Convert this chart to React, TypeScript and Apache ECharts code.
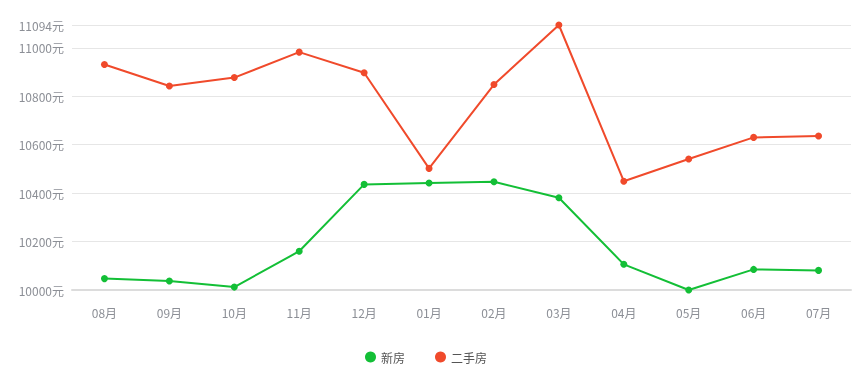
import React, { useEffect, useRef } from "react";
import * as echarts from "echarts";

const categories = ["08月", "09月", "10月", "11月", "12月", "01月", "02月", "03月", "04月", "05月", "06月", "07月"];
const newHouse = [10047, 10037, 10012, 10160, 10436, 10442, 10447, 10381, 10106, 10000, 10085, 10081];
const secondHand = [10931, 10842, 10877, 10982, 10897, 10502, 10848, 11094, 10449, 10541, 10630, 10636];
const seriesNames = ["新房", "二手房"];
const colors = ["#13bf36", "#f04a2b"];

export default function App() {
  const ref = useRef<HTMLDivElement>(null);
  useEffect(() => {
    const chart = echarts.init(ref.current!, null, { renderer: "svg" });
    chart.setOption({
      animation: false,
      color: colors,
      textStyle: { fontFamily: "'Noto Sans CJK SC', 'Noto Sans', sans-serif" },
      grid: { left: 72, right: 13, top: 25, bottom: 82 },
      legend: {
        bottom: 4,
        left: 360,
        icon: "circle",
        itemWidth: 11,
        itemHeight: 11,
        itemGap: 30,
        textStyle: { color: "#555", fontSize: 12 },
        data: seriesNames,
      },
      xAxis: {
        type: "category",
        data: categories,
        axisTick: { show: false },
        axisLine: { lineStyle: { color: "#dcdcdc", width: 2 } },
        axisLabel: { color: "#8c8f96", fontSize: 12, margin: 16 },
      },
      yAxis: {
        type: "value",
        min: 10000,
        max: 11094,
        interval: 200,
        axisLine: { show: false },
        axisTick: { show: false },
        splitLine: { lineStyle: { color: "#e6e6e6" } },
        axisLabel: {
          color: "#8c8f96",
          fontSize: 12,
          formatter: (v: number) => v + "元",
          margin: 8,
        },
      },
      series: [
        {
          name: seriesNames[0],
          type: "line",
          data: newHouse,
          symbol: "circle",
          symbolSize: 7,
          lineStyle: { width: 2 },
        },
        {
          name: seriesNames[1],
          type: "line",
          data: secondHand,
          symbol: "circle",
          symbolSize: 7,
          lineStyle: { width: 2 },
        },
      ],
    });
    return () => chart.dispose();
  }, []);
  return (
    <div
      ref={ref}
      style={{ position: "fixed", left: 0, top: 0, width: 864, height: 372 }}
    />
  );
}
